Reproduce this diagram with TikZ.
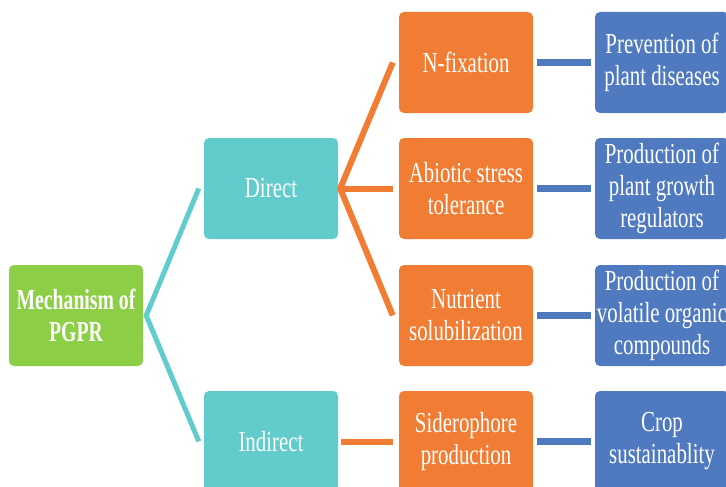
\documentclass[tikz,border=0pt]{standalone}
\usepackage{fontspec}
\setmainfont{Liberation Serif}[FakeStretch=0.72]
\newfontfamily\rootfont{Liberation Serif}[FakeStretch=0.68]
\definecolor{rootgreen}{HTML}{8CCF47}
\definecolor{levelteal}{HTML}{62CBCB}
\definecolor{levelorange}{HTML}{F07D33}
\definecolor{levelblue}{HTML}{4F7AC0}
\begin{document}
\begin{tikzpicture}[x=1pt,y=-1pt,
  box/.style={rounded corners=5pt, minimum width=134pt, minimum height=101pt,
    inner sep=0pt, text=white, align=center,
    font=\fontsize{29}{32}\selectfont},
  rootbox/.style={box, fill=rootgreen, font=\fontsize{29}{32}\rootfont\bfseries},
  tealbox/.style={box, fill=levelteal},
  orangebox/.style={box, fill=levelorange},
  bluebox/.style={box, fill=levelblue},
  tealline/.style={draw=levelteal, line width=5pt, line join=miter},
  orangeline/.style={draw=levelorange, line width=6pt, line join=miter},
  blueline/.style={draw=levelblue, line width=7.5pt}]
\useasboundingbox (0,0) rectangle (726,487);
\clip (0,0) rectangle (726,487);

% root
\node[rootbox] (root) at (76,315.5) {Mechanism of\\PGPR};

% first level
\node[tealbox] (direct) at (271,188.5) {Direct};
\node[tealbox] (indirect) at (271,441.5) {Indirect};

% second level
\node[orangebox] (nfix) at (466,62.5) {N-fixation};
\node[orangebox] (abio) at (466,188.5) {Abiotic stress\\tolerance};
\node[orangebox] (nutr) at (466,315.5) {Nutrient\\solubilization};
\node[orangebox] (sid) at (466,441.5) {Siderophore\\production};

% outcomes
\node[bluebox] (prev) at (662,62.5) {Prevention of\\plant diseases};
\node[bluebox] (pgr) at (662,188.5) {Production of\\plant growth\\regulators};
\node[bluebox] (voc) at (662,315.5) {Production of\\volatile organic\\compounds};
\node[bluebox] (crop) at (662,441.5) {Crop\\sustainablity};

% connectors
\draw[tealline] ([xshift=-5pt]direct.west) -- ([xshift=3pt]root.east)
  -- ([xshift=-5pt]indirect.west);
\draw[orangeline] ([xshift=-6pt]nfix.west) -- ([xshift=2pt]direct.east)
  -- ([xshift=-6pt]nutr.west);
\draw[orangeline] ([xshift=2pt]direct.east) -- ([xshift=-6pt]abio.west);
\draw[orangeline] ([xshift=3pt]indirect.east) -- ([xshift=-6pt]sid.west);
\draw[blueline] ([xshift=4pt]nfix.east) -- ([xshift=-4pt]prev.west);
\draw[blueline] ([xshift=4pt]abio.east) -- ([xshift=-4pt]pgr.west);
\draw[blueline] ([xshift=4pt]nutr.east) -- ([xshift=-4pt]voc.west);
\draw[blueline] ([xshift=4pt]sid.east) -- ([xshift=-4pt]crop.west);
\end{tikzpicture}
\end{document}
